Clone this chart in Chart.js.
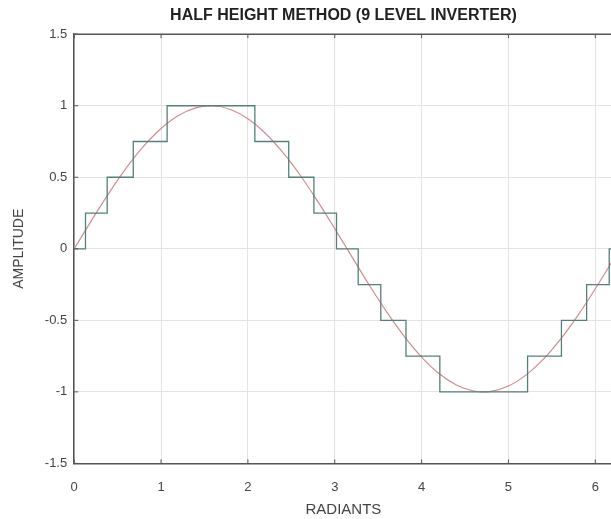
<!DOCTYPE html>
<html>
<head>
<meta charset="utf-8">
<script src="https://cdn.jsdelivr.net/npm/chart.js@4"></script>
<style>
  html, body { margin: 0; padding: 0; background: #fff; overflow: hidden; }
  #wrap { width: 615px; height: 519px; }
</style>
</head>
<body>
<div id="wrap"><canvas id="chart"></canvas></div>
<script>
// sine reference (radians, amplitude)
const sineX = [0, 0.2, 0.4, 0.6, 0.8, 1.0, 1.2, 1.4, 1.6, 1.8, 2.0, 2.2, 2.4, 2.6, 2.8, 3.0,
    3.2, 3.4, 3.6, 3.8, 4.0, 4.2, 4.4, 4.6, 4.8, 5.0, 5.2, 5.4, 5.6, 5.8, 6.0, 6.2];
const sineY = [0, 0.199, 0.389, 0.565, 0.717, 0.841, 0.932, 0.985, 1.0, 0.974, 0.909, 0.808,
    0.675, 0.516, 0.335, 0.141, -0.058, -0.256, -0.443, -0.612, -0.757, -0.872, -0.952,
    -0.994, -0.996, -0.959, -0.883, -0.773, -0.631, -0.465, -0.279, -0.083];

// staircase: switching angles and the level reached at each one
const stepX = [0, 0.13, 0.38, 0.68, 1.07, 2.08, 2.47, 2.76, 3.02, 3.27, 3.53, 3.82, 4.21,
    5.22, 5.61, 5.90, 6.16, 6.2];
const stepY = [0, 0.25, 0.5, 0.75, 1, 0.75, 0.5, 0.25, 0, -0.25, -0.5, -0.75, -1,
    -0.75, -0.5, -0.25, 0, 0];

const xTicks = [0, 1, 2, 3, 4, 5, 6];
const yTicks = [-1.5, -1, -0.5, 0, 0.5, 1, 1.5];

const axisColor = '#555';
const textColor = '#444';
const fontFamily = '"Liberation Sans", Arial, sans-serif';

// box on top plus small inward ticks, like the matlab axes
const boxPlugin = {
    id: 'box',
    afterDraw(chart) {
        const { ctx, chartArea: a, scales } = chart;
        ctx.save();
        ctx.strokeStyle = axisColor;
        ctx.lineWidth = 1.5;
        ctx.beginPath();
        ctx.moveTo(a.left, a.top);
        ctx.lineTo(a.right, a.top);
        ctx.stroke();
        ctx.lineWidth = 1;
        ctx.beginPath();
        xTicks.forEach(v => {
            const px = scales.x.getPixelForValue(v);
            ctx.moveTo(px, a.bottom); ctx.lineTo(px, a.bottom - 4);
            ctx.moveTo(px, a.top); ctx.lineTo(px, a.top + 4);
        });
        yTicks.forEach(v => {
            const py = scales.y.getPixelForValue(v);
            ctx.moveTo(a.left, py); ctx.lineTo(a.left + 4, py);
        });
        ctx.stroke();
        ctx.restore();
    }
};

new Chart(document.getElementById('chart'), {
    type: 'line',
    data: {
        datasets: [
            {
                label: 'Staircase',
                data: stepX.map((x, i) => ({ x, y: stepY[i] })),
                borderColor: '#52807b',
                borderWidth: 1.3,
                pointRadius: 0,
                stepped: 'before',
                fill: false
            },
            {
                label: 'Sine',
                data: sineX.map((x, i) => ({ x, y: sineY[i] })),
                borderColor: '#cf8e8e',
                borderWidth: 1.2,
                pointRadius: 0,
                tension: 0.4,
                fill: false
            }
        ]
    },
    options: {
        responsive: true,
        maintainAspectRatio: false,
        animation: false,
        layout: { padding: { left: 11, right: 0, top: 0, bottom: 0 } },
        plugins: {
            legend: { display: false },
            tooltip: { enabled: false },
            title: {
                display: true,
                fullSize: false,
                text: 'HALF HEIGHT METHOD (9 LEVEL INVERTER)',
                color: '#222',
                font: { family: fontFamily, size: 16, weight: 'bold' },
                padding: { top: 6, bottom: 9 }
            }
        },
        scales: {
            x: {
                type: 'linear',
                min: 0,
                max: 6.2,
                afterBuildTicks: s => { s.ticks = xTicks.map(v => ({ value: v })); },
                grid: { color: '#e3e3e3', drawTicks: false },
                border: { color: axisColor, width: 1.5 },
                ticks: { color: textColor, padding: 16, font: { family: fontFamily, size: 13 } },
                title: {
                    display: true,
                    text: 'RADIANTS',
                    color: textColor,
                    font: { family: fontFamily, size: 15 },
                    padding: { top: -10, bottom: 0 }
                }
            },
            y: {
                min: -1.5,
                max: 1.5,
                afterBuildTicks: s => { s.ticks = yTicks.map(v => ({ value: v })); },
                grid: { color: '#e3e3e3', drawTicks: false },
                border: { color: axisColor, width: 1.5 },
                ticks: {
                    color: textColor,
                    padding: 7,
                    font: { family: fontFamily, size: 13 },
                    callback: v => String(v)
                },
                title: {
                    display: true,
                    text: 'AMPLITUDE',
                    color: textColor,
                    font: { family: fontFamily, size: 14 },
                    padding: { top: 0, bottom: 10 }
                }
            }
        }
    },
    plugins: [boxPlugin]
});
</script>
</body>
</html>
